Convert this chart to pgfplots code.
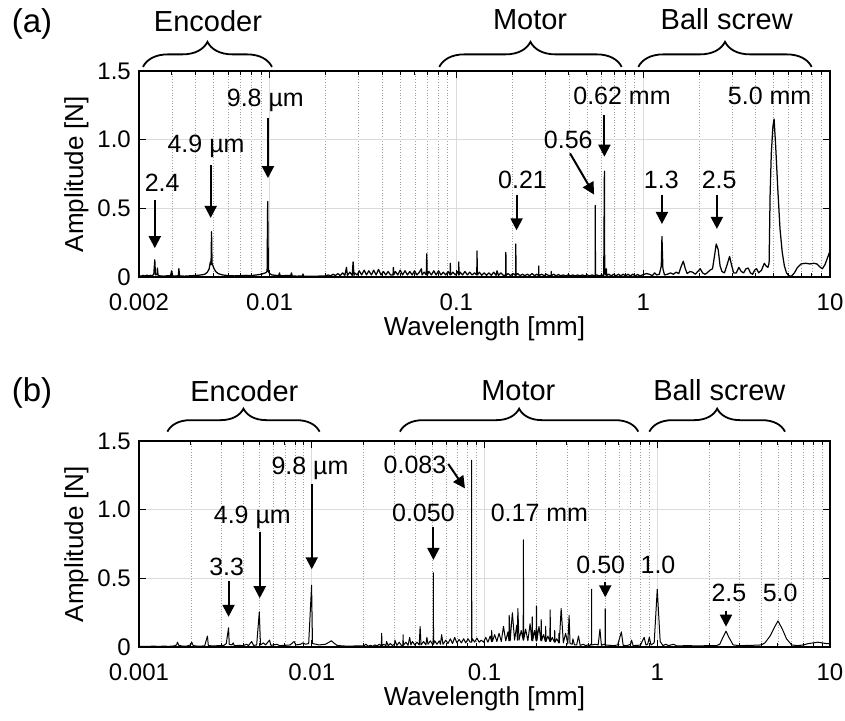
\documentclass[border=0pt]{standalone}
\usepackage{fontspec}
\setmainfont{Liberation Sans}
\usepackage{pgfplots}
\pgfplotsset{compat=1.18}
\usetikzlibrary{arrows.meta,decorations.pathreplacing}

\tikzset{
 arr/.style={line width=2pt, -{Triangle[width=12pt,length=12pt]}},
 brc/.style={decorate, decoration={brace,amplitude=#1}, line width=1.8pt},
 ann/.style={anchor=base, inner sep=0pt, font=\fontsize{25}{30}\selectfont},
 grp/.style={anchor=base, inner sep=0pt, font=\fontsize{29}{34}\selectfont},
}

\begin{document}
\begin{tikzpicture}
\useasboundingbox (0,0) rectangle (845pt,720pt);
\node[font=\fontsize{33}{38}\selectfont] at (32pt,696.5pt) {(a)};
\node[font=\fontsize{33}{38}\selectfont] at (32pt,327pt) {(b)};

% ---------------- panel (a)
\begin{axis}[xmode=log, scale only axis, width=691pt, height=206pt,
  ymin=0, ymax=1.5, ytick={0,0.5,1,1.5}, yticklabels={0,0.5,1.0,1.5},
  xmax=10,
  axis line style={line width=1.6pt},
  tick style={line width=1pt, black},
  major tick length=7pt, minor tick length=4pt,
  grid=both,
  major grid style={line width=0.8pt, black!14},
  minor grid style={line width=0.7pt, black!38, dotted},
  tick label style={font=\fontsize{24}{28}\selectfont, inner sep=1pt},
  xticklabel style={yshift=-16pt},
  yticklabel style={xshift=-7pt},
  xlabel={Wavelength [mm]},
  ylabel={Amplitude [N]},
  xlabel style={at={(axis description cs:0.5,-0.2816)}, anchor=base, font=\fontsize{26}{30}\selectfont},
  ylabel style={at={(axis description cs:-0.081,0.5)}, anchor=base, font=\fontsize{26}{30}\selectfont},
  clip=false,
  at={(139pt,443pt)}, anchor=south west,
  xmin=0.002,
  xtick={0.002,0.01,0.1,1,10}, xticklabels={0.002,0.01,0.1,1,10},
  minor xtick={0.003,0.004,0.005,0.006,0.007,0.008,0.009,0.02,0.03,0.04,0.05,0.06,0.07,0.08,0.09,0.2,0.3,0.4,0.5,0.6,0.7,0.8,0.9,2,3,4,5,6,7,8,9}]
\addplot[black, line width=1.25pt, line join=round, no marks] table {
x y
0.00200 0.010
0.00205 0.006
0.00210 0.012
0.00215 0.007
0.00220 0.014
0.00225 0.008
0.00230 0.012
0.00235 0.009
0.00240 0.020
0.00243 0.125
0.00245 0.015
0.00250 0.020
0.00251 0.065
0.00253 0.012
0.00260 0.008
0.00270 0.006
0.00280 0.008
0.00295 0.010
0.00299 0.045
0.00303 0.008
0.00315 0.007
0.00325 0.010
0.00327 0.060
0.00330 0.008
0.00350 0.006
0.00370 0.008
0.00390 0.010
0.00410 0.012
0.00430 0.015
0.00450 0.020
0.00465 0.035
0.00475 0.060
0.00482 0.110
0.00486 0.090
0.00489 0.330
0.00492 0.100
0.00498 0.080
0.00505 0.060
0.00515 0.040
0.00530 0.025
0.00560 0.015
0.00600 0.010
0.00650 0.008
0.00700 0.010
0.00750 0.012
0.00800 0.010
0.00850 0.015
0.00900 0.020
0.00950 0.030
0.00970 0.040
0.00977 0.550
0.00985 0.040
0.01000 0.025
0.01030 0.015
0.01080 0.012
0.01120 0.010
0.01130 0.030
0.01140 0.008
0.01200 0.010
0.01300 0.012
0.01310 0.030
0.01320 0.008
0.01400 0.006
0.01500 0.008
0.01510 0.022
0.01520 0.006
0.01650 0.005
0.01800 0.006
0.0200 0.008
0.0206 0.015
0.0212 0.008
0.0219 0.020
0.0225 0.010
0.0232 0.025
0.0239 0.010
0.0246 0.030
0.0253 0.012
0.0258 0.070
0.0261 0.012
0.0269 0.035
0.0277 0.012
0.0280 0.110
0.0283 0.012
0.0285 0.030
0.0294 0.015
0.0302 0.045
0.0311 0.015
0.0321 0.050
0.0330 0.015
0.0340 0.045
0.0351 0.015
0.0361 0.050
0.0372 0.015
0.0383 0.055
0.0395 0.015
0.0407 0.040
0.0419 0.015
0.0431 0.040
0.0444 0.015
0.0458 0.015
0.0460 0.070
0.0462 0.015
0.0471 0.040
0.0486 0.015
0.0500 0.050
0.0515 0.015
0.0531 0.045
0.0547 0.015
0.0563 0.040
0.0580 0.015
0.0597 0.045
0.0615 0.015
0.0634 0.035
0.0650 0.060
0.0655 0.015
0.0672 0.035
0.0690 0.015
0.0694 0.170
0.0698 0.015
0.0713 0.040
0.0735 0.015
0.0757 0.045
0.0779 0.015
0.0803 0.045
0.0827 0.015
0.0851 0.035
0.0877 0.015
0.0903 0.040
0.0926 0.015
0.0928 0.100
0.0931 0.015
0.0958 0.035
0.0987 0.015
0.1017 0.040
0.1028 0.015
0.1030 0.110
0.1033 0.015
0.1047 0.035
0.1079 0.015
0.1111 0.040
0.1145 0.015
0.1179 0.035
0.1214 0.015
0.1251 0.030
0.1286 0.015
0.1290 0.190
0.1294 0.015
0.1327 0.035
0.1367 0.012
0.1408 0.030
0.1450 0.012
0.1493 0.030
0.1538 0.012
0.1584 0.035
0.1632 0.012
0.1650 0.045
0.1681 0.012
0.1731 0.030
0.1783 0.012
0.1836 0.012
0.1840 0.180
0.1844 0.012
0.1892 0.025
0.1948 0.010
0.2007 0.025
0.2075 0.012
0.2080 0.240
0.2085 0.012
0.2129 0.025
0.2193 0.010
0.2259 0.020
0.2327 0.010
0.2396 0.020
0.2468 0.010
0.2542 0.025
0.2619 0.010
0.2697 0.020
0.2755 0.010
0.2760 0.080
0.2765 0.010
0.2861 0.020
0.2947 0.010
0.3036 0.020
0.3127 0.010
0.3215 0.010
0.3220 0.040
0.3225 0.010
0.3317 0.020
0.3417 0.008
0.3519 0.018
0.3625 0.008
0.3734 0.015
0.3846 0.008
0.3961 0.015
0.4080 0.008
0.4202 0.015
0.4328 0.008
0.4458 0.015
0.4592 0.008
0.4730 0.015
0.4872 0.008
0.5018 0.015
0.5168 0.008
0.5323 0.015
0.5483 0.008
0.5530 0.010
0.5540 0.520
0.5550 0.010
0.5648 0.015
0.5817 0.008
0.5992 0.015
0.6150 0.010
0.6200 0.770
0.6220 0.030
0.6300 0.015
0.6350 0.060
0.6380 0.012
0.6547 0.020
0.6744 0.008
0.6946 0.020
0.7154 0.008
0.7369 0.020
0.7590 0.008
0.7818 0.020
0.8053 0.008
0.8294 0.020
0.8543 0.008
0.8799 0.020
0.9063 0.008
0.9335 0.018
0.9615 0.008
0.9904 0.015
1.04000 0.025
1.08000 0.020
1.12000 0.010
1.15000 0.030
1.18000 0.015
1.22000 0.020
1.25000 0.080
1.26000 0.295
1.27500 0.060
1.30000 0.015
1.35000 0.020
1.40000 0.030
1.45000 0.020
1.50000 0.035
1.55000 0.025
1.60000 0.080
1.64000 0.115
1.68000 0.060
1.72000 0.025
1.78000 0.040
1.84000 0.035
1.90000 0.020
1.96000 0.040
2.02000 0.060
2.08000 0.030
2.14000 0.020
2.20000 0.030
2.28000 0.050
2.35000 0.060
2.40000 0.140
2.46000 0.240
2.52000 0.200
2.58000 0.080
2.64000 0.040
2.72000 0.030
2.80000 0.080
2.90000 0.150
2.98000 0.080
3.05000 0.030
3.15000 0.030
3.25000 0.070
3.35000 0.040
3.45000 0.030
3.55000 0.060
3.65000 0.065
3.75000 0.030
3.85000 0.020
3.95000 0.050
4.05000 0.060
4.15000 0.030
4.30000 0.050
4.45000 0.100
4.55000 0.080
4.65000 0.070
4.72000 0.100
4.78000 0.600
4.85000 0.900
4.95000 1.100
5.02000 1.150
5.12000 0.950
5.25000 0.650
5.40000 0.350
5.55000 0.180
5.70000 0.080
5.85000 0.030
6.00000 0.010
6.20000 0.005
6.45000 0.030
6.70000 0.070
7.00000 0.095
7.40000 0.100
7.80000 0.095
8.20000 0.100
8.50000 0.095
8.80000 0.075
9.10000 0.060
9.40000 0.090
9.70000 0.140
10.0000 0.190
};
% braces
\draw[brc=25pt] (axis cs:0.0021,1.53) -- (axis cs:0.0103,1.53);
\draw[brc=25pt] (axis cs:0.081,1.53) -- (axis cs:0.767,1.53);
\draw[brc=25pt] (axis cs:0.942,1.53) -- (axis cs:7.98,1.53);
\node[grp] at (axis cs:0.00468,1.79) {Encoder};
\node[grp] at (axis cs:0.248,1.80) {Motor};
\node[grp] at (axis cs:2.80,1.80) {Ball screw};
% annotations
\node[ann] at (axis cs:0.00266,0.619) {2.4};
\draw[arr] (axis cs:0.00243,0.56) -- (axis cs:0.00243,0.21);
\node[ann] at (axis cs:0.00457,0.910) {4.9 µm};
\draw[arr] (axis cs:0.00484,0.815) -- (axis cs:0.00484,0.43);
\node[ann] at (axis cs:0.00949,1.245) {9.8 µm};
\draw[arr] (axis cs:0.0098,1.16) -- (axis cs:0.0098,0.72);
\node[ann] at (axis cs:0.226,0.646) {0.21};
\draw[arr] (axis cs:0.21,0.6) -- (axis cs:0.21,0.34);
\node[ann] at (axis cs:0.397,0.937) {0.56};
\draw[arr] (axis cs:0.406,0.90) -- (axis cs:0.546,0.60);
\node[ann] at (axis cs:0.77,1.253) {0.62 mm};
\draw[arr] (axis cs:0.62,1.18) -- (axis cs:0.62,0.876);
\node[ann] at (axis cs:1.25,0.646) {1.3};
\draw[arr] (axis cs:1.26,0.6) -- (axis cs:1.26,0.386);
\node[ann] at (axis cs:2.55,0.646) {2.5};
\draw[arr] (axis cs:2.48,0.6) -- (axis cs:2.48,0.35);
\node[ann] at (axis cs:4.75,1.253) {5.0 mm};
\end{axis}

% ---------------- panel (b)
\begin{axis}[xmode=log, scale only axis, width=691pt, height=206pt,
  ymin=0, ymax=1.5, ytick={0,0.5,1,1.5}, yticklabels={0,0.5,1.0,1.5},
  xmax=10,
  axis line style={line width=1.6pt},
  tick style={line width=1pt, black},
  major tick length=7pt, minor tick length=4pt,
  grid=both,
  major grid style={line width=0.8pt, black!14},
  minor grid style={line width=0.7pt, black!38, dotted},
  tick label style={font=\fontsize{24}{28}\selectfont, inner sep=1pt},
  xticklabel style={yshift=-16pt},
  yticklabel style={xshift=-7pt},
  xlabel={Wavelength [mm]},
  ylabel={Amplitude [N]},
  xlabel style={at={(axis description cs:0.5,-0.2816)}, anchor=base, font=\fontsize{26}{30}\selectfont},
  ylabel style={at={(axis description cs:-0.081,0.5)}, anchor=base, font=\fontsize{26}{30}\selectfont},
  clip=false,
  at={(139pt,73pt)}, anchor=south west,
  xmin=0.001,
  xtick={0.001,0.01,0.1,1,10}, xticklabels={0.001,0.01,0.1,1,10},
  minor xtick={0.002,0.003,0.004,0.005,0.006,0.007,0.008,0.009,0.02,0.03,0.04,0.05,0.06,0.07,0.08,0.09,0.2,0.3,0.4,0.5,0.6,0.7,0.8,0.9,2,3,4,5,6,7,8,9}]
\addplot[black, line width=1pt, line join=round, no marks] table {
x y
0.00100 0.005
0.00110 0.004
0.00120 0.006
0.00130 0.005
0.00140 0.006
0.00150 0.005
0.00160 0.008
0.00165 0.015
0.00167 0.035
0.00170 0.012
0.00180 0.006
0.00190 0.007
0.00198 0.015
0.00202 0.035
0.00206 0.010
0.00220 0.006
0.00240 0.008
0.00249 0.080
0.00252 0.010
0.00270 0.008
0.00290 0.010
0.00310 0.012
0.00320 0.025
0.00330 0.140
0.00333 0.020
0.00345 0.015
0.00351 0.030
0.00356 0.010
0.00380 0.012
0.00400 0.010
0.00420 0.020
0.00430 0.010
0.00449 0.040
0.00460 0.012
0.00480 0.015
0.00497 0.255
0.00505 0.015
0.00525 0.030
0.00540 0.015
0.00570 0.050
0.00580 0.012
0.00630 0.020
0.00650 0.010
0.00700 0.012
0.00750 0.015
0.00790 0.040
0.00810 0.015
0.00860 0.020
0.00890 0.030
0.00920 0.020
0.00960 0.025
0.00998 0.450
0.01010 0.025
0.01060 0.020
0.01100 0.015
0.01200 0.020
0.01260 0.035
0.01300 0.045
0.01340 0.030
0.01400 0.012
0.01500 0.008
0.01650 0.006
0.01800 0.008
0.0200 0.008
0.0206 0.020
0.0212 0.006
0.0219 0.012
0.0225 0.006
0.0232 0.015
0.0239 0.008
0.0246 0.020
0.0253 0.008
0.0254 0.100
0.0255 0.008
0.0261 0.020
0.0269 0.010
0.0271 0.040
0.0277 0.010
0.0285 0.025
0.0294 0.010
0.0302 0.025
0.0303 0.050
0.0311 0.012
0.0321 0.035
0.0330 0.012
0.0337 0.012
0.0338 0.090
0.0339 0.012
0.0351 0.035
0.0361 0.012
0.0369 0.070
0.0375 0.015
0.0383 0.040
0.0395 0.015
0.0407 0.035
0.0419 0.015
0.0424 0.150
0.0429 0.015
0.0444 0.040
0.0458 0.015
0.0464 0.070
0.0471 0.020
0.0486 0.045
0.0500 0.020
0.0505 0.020
0.0506 0.540
0.0507 0.020
0.0515 0.045
0.0531 0.020
0.0547 0.045
0.0556 0.020
0.0565 0.090
0.0575 0.020
0.0597 0.050
0.0615 0.025
0.0634 0.060
0.0653 0.025
0.0672 0.070
0.0692 0.030
0.0713 0.055
0.0735 0.030
0.0757 0.060
0.0779 0.030
0.0803 0.060
0.0827 0.035
0.0842 0.035
0.0843 1.360
0.0844 0.035
0.0851 0.060
0.0877 0.035
0.0903 0.065
0.0931 0.035
0.0958 0.050
0.0987 0.035
0.1017 0.070
0.1047 0.035
0.1079 0.080
0.1098 0.040
0.1100 0.120
0.1111 0.040
0.1145 0.090
0.1179 0.040
0.1214 0.100
0.1251 0.040
0.1288 0.150
0.1327 0.045
0.1367 0.110
0.1385 0.045
0.1390 0.230
0.1408 0.045
0.1450 0.250
0.1493 0.050
0.1538 0.160
0.1550 0.050
0.1560 0.280
0.1584 0.050
0.1632 0.120
0.1675 0.050
0.1680 0.780
0.1685 0.050
0.1731 0.130
0.1783 0.045
0.1837 0.170
0.1880 0.045
0.1890 0.220
0.1900 0.045
0.1948 0.120
0.1990 0.045
0.2000 0.300
0.2010 0.045
0.2067 0.150
0.2120 0.045
0.2130 0.200
0.2140 0.045
0.2193 0.090
0.2250 0.040
0.2260 0.150
0.2270 0.040
0.2327 0.080
0.2390 0.040
0.2400 0.270
0.2410 0.040
0.2468 0.070
0.2540 0.035
0.2550 0.120
0.2560 0.035
0.2619 0.060
0.2690 0.030
0.2700 0.100
0.2710 0.030
0.2778 0.280
0.2861 0.030
0.2947 0.100
0.3036 0.025
0.3090 0.230
0.3127 0.025
0.3221 0.020
0.3250 0.060
0.3317 0.015
0.3417 0.015
0.3500 0.080
0.3580 0.012
0.3734 0.020
0.3846 0.010
0.3961 0.015
0.4080 0.010
0.41000 0.020
0.41650 0.015
0.41700 0.420
0.41750 0.015
0.44000 0.020
0.45500 0.015
0.46600 0.130
0.47500 0.012
0.49000 0.020
0.49900 0.015
0.50000 0.280
0.50100 0.015
0.53000 0.012
0.56000 0.010
0.59000 0.015
0.62000 0.110
0.63500 0.012
0.67000 0.010
0.70000 0.020
0.71000 0.050
0.72500 0.010
0.77000 0.012
0.80000 0.015
0.84000 0.070
0.86000 0.015
0.88000 0.020
0.90000 0.070
0.92000 0.015
0.96000 0.030
1.00000 0.420
1.04000 0.040
1.08000 0.010
1.12000 0.020
1.16000 0.010
1.20000 0.015
1.24000 0.020
1.30000 0.008
1.50000 0.010
1.70000 0.008
2.00000 0.010
2.20000 0.010
2.30000 0.020
2.40000 0.070
2.50000 0.115
2.60000 0.070
2.75000 0.015
3.00000 0.010
3.50000 0.012
4.00000 0.015
4.20000 0.030
4.50000 0.080
4.80000 0.150
5.00000 0.190
5.30000 0.130
5.60000 0.060
6.00000 0.015
6.50000 0.010
7.00000 0.015
7.50000 0.025
8.00000 0.030
8.50000 0.035
9.00000 0.030
9.50000 0.025
10.0000 0.025
};
% braces
\draw[brc=23pt] (axis cs:0.00146,1.568) -- (axis cs:0.0111,1.568);
\draw[brc=23pt] (axis cs:0.0324,1.568) -- (axis cs:0.777,1.568);
\draw[brc=23pt] (axis cs:0.90,1.568) -- (axis cs:5.49,1.568);
\node[grp] at (axis cs:0.00407,1.787) {Encoder};
\node[grp] at (axis cs:0.157,1.792) {Motor};
\node[grp] at (axis cs:2.29,1.792) {Ball screw};
% annotations
\node[ann] at (axis cs:0.00322,0.524) {3.3};
\draw[arr] (axis cs:0.0033,0.483) -- (axis cs:0.0033,0.22);
\node[ann] at (axis cs:0.00453,0.896) {4.9 µm};
\draw[arr] (axis cs:0.0050,0.84) -- (axis cs:0.0050,0.355);
\node[ann] at (axis cs:0.00977,1.253) {9.8 µm};
\draw[arr] (axis cs:0.0100,1.19) -- (axis cs:0.0100,0.566);
\node[ann] at (axis cs:0.0396,1.265) {0.083};
\draw[arr] (axis cs:0.0617,1.333) -- (axis cs:0.0771,1.155);
\node[ann] at (axis cs:0.0443,0.913) {0.050};
\draw[arr] (axis cs:0.0506,0.876) -- (axis cs:0.0506,0.634);
\node[ann] at (axis cs:0.208,0.913) {0.17 mm};
\node[ann] at (axis cs:0.471,0.532) {0.50};
\draw[arr] (axis cs:0.50,0.476) -- (axis cs:0.50,0.362);
\node[ann] at (axis cs:1.01,0.532) {1.0};
\node[ann] at (axis cs:2.6,0.33) {2.5};
\draw[arr] (axis cs:2.5,0.265) -- (axis cs:2.5,0.148);
\node[ann] at (axis cs:5.15,0.33) {5.0};
\end{axis}
\end{tikzpicture}
\end{document}
